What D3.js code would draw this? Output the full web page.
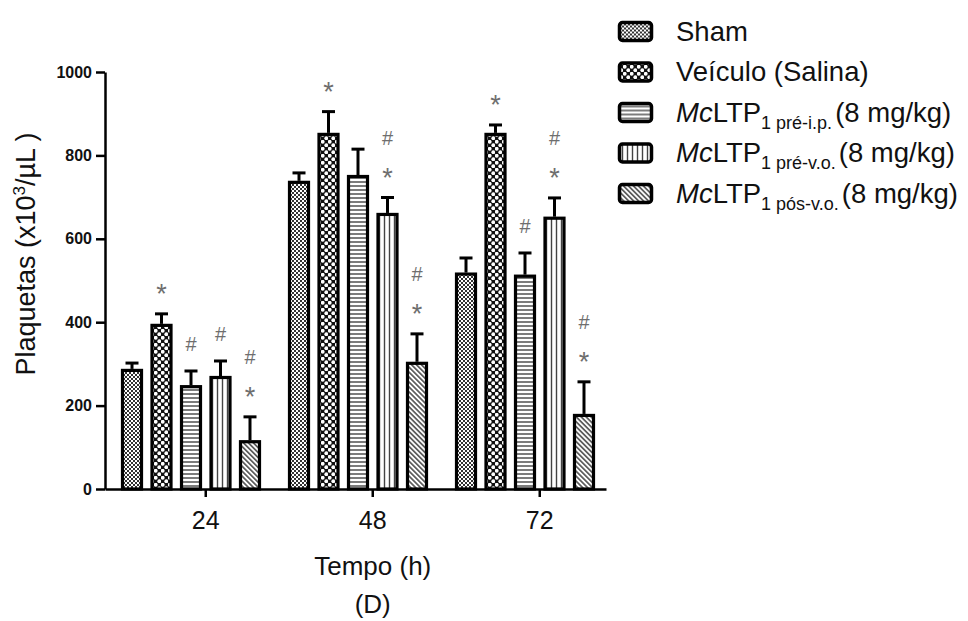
<!DOCTYPE html>
<html>
<head>
<meta charset="utf-8">
<script src="https://cdn.jsdelivr.net/npm/d3@7"></script>
<style>
  body { margin: 0; background: #fff; }
  text { font-family: "Liberation Sans", Arial, sans-serif; fill: #111; }
</style>
</head>
<body>
<div class="vis-holder"></div>
<script>
// time points (h)
var groups = ["24", "48", "72"];
var seriesKeys = ["sham", "veiculo", "preIp", "preVo", "posVo"];

// means (x10^3/uL), one value per time point
var sham    = [288, 739, 519];
var veiculo = [396, 854, 854];
var preIp   = [249, 753, 514];
var preVo   = [271, 662, 653];
var posVo   = [117, 305, 180];

// upper error bars
var shamErr    = [14, 19, 35];
var veiculoErr = [24, 51, 19];
var preIpErr   = [34, 62, 52];
var preVoErr   = [36, 37, 45];
var posVoErr   = [56, 67, 77];

// significance marks, lowest first
var shamSig    = ["", "", ""];
var veiculoSig = ["*", "*", "*"];
var preIpSig   = ["#", "", "#"];
var preVoSig   = ["#", "*#", "*#"];
var posVoSig   = ["*#", "*#", "*#"];

var yTicks = [0, 200, 400, 600, 800, 1000];

// legend text pieces
var legendItalic = ["", "", "Mc", "Mc", "Mc"];
var legendName   = ["Sham", "Veículo (Salina)", "LTP", "LTP", "LTP"];
var legendSub    = ["", "", "1 pré-i.p.", "1 pré-v.o.", "1 pós-v.o."];
var legendTail   = ["", "", "(8 mg/kg)", "(8 mg/kg)", "(8 mg/kg)"];

var means = { sham: sham, veiculo: veiculo, preIp: preIp, preVo: preVo, posVo: posVo };
var errs  = { sham: shamErr, veiculo: veiculoErr, preIp: preIpErr, preVo: preVoErr, posVo: posVoErr };
var sigs  = { sham: shamSig, veiculo: veiculoSig, preIp: preIpSig, preVo: preVoSig, posVo: posVoSig };

var width = 968, height = 621;

var svg = d3.select(".vis-holder").append("svg")
  .attr("width", width)
  .attr("height", height);

// ---- fill patterns ----
var defs = svg.append("defs");

var p = defs.append("pattern").attr("id", "pat-sham")
  .attr("patternUnits", "userSpaceOnUse").attr("width", 4).attr("height", 4);
p.append("rect").attr("width", 4).attr("height", 4).attr("fill", "#fff");
p.append("rect").attr("width", 2).attr("height", 2).attr("fill", "#333");
p.append("rect").attr("x", 2).attr("y", 2).attr("width", 2).attr("height", 2).attr("fill", "#333");

p = defs.append("pattern").attr("id", "pat-veiculo")
  .attr("patternUnits", "userSpaceOnUse").attr("width", 7).attr("height", 7);
p.append("rect").attr("width", 7).attr("height", 7).attr("fill", "#111");
p.append("circle").attr("cx", 1.75).attr("cy", 1.75).attr("r", 1.9).attr("fill", "#fff");
p.append("circle").attr("cx", 5.25).attr("cy", 5.25).attr("r", 1.9).attr("fill", "#fff");

p = defs.append("pattern").attr("id", "pat-preIp")
  .attr("patternUnits", "userSpaceOnUse").attr("width", 4).attr("height", 4);
p.append("rect").attr("width", 4).attr("height", 4).attr("fill", "#fff");
p.append("line").attr("x1", 0).attr("x2", 4).attr("y1", 2).attr("y2", 2)
  .attr("stroke", "#444").attr("stroke-width", 1.4);

p = defs.append("pattern").attr("id", "pat-preVo")
  .attr("patternUnits", "userSpaceOnUse").attr("width", 5).attr("height", 5);
p.append("rect").attr("width", 5).attr("height", 5).attr("fill", "#fff");
p.append("line").attr("x1", 2.5).attr("x2", 2.5).attr("y1", 0).attr("y2", 5)
  .attr("stroke", "#444").attr("stroke-width", 1.4);

p = defs.append("pattern").attr("id", "pat-posVo")
  .attr("patternUnits", "userSpaceOnUse").attr("width", 3.5).attr("height", 3.5)
  .attr("patternTransform", "rotate(-45)");
p.append("rect").attr("width", 3.5).attr("height", 3.5).attr("fill", "#fff");
p.append("line").attr("x1", 1.75).attr("x2", 1.75).attr("y1", 0).attr("y2", 3.5)
  .attr("stroke", "#444").attr("stroke-width", 1.5);

// ---- scales ----
var x0 = d3.scaleBand().domain(groups).range([105, 606]);
var x1 = d3.scaleBand().domain(seriesKeys).range([16, 156]).paddingInner(0.254).paddingOuter(0);
var y = d3.scaleLinear().domain([0, 1000]).range([489, 72]);

// ---- bars ----
var gBars = svg.append("g").selectAll("g")
  .data(groups)
  .enter().append("g")
  .attr("transform", function(g) { return "translate(" + x0(g) + ",0)"; });

gBars.each(function(g, gi) {
  var sel = d3.select(this);
  seriesKeys.forEach(function(k) {
    var v = means[k][gi], e = errs[k][gi];
    var bx = x1(k) + 1.5, bw = x1.bandwidth() - 3;
    var cx = x1(k) + x1.bandwidth() / 2;
    // error bar (upper only)
    sel.append("line")
      .attr("x1", cx).attr("x2", cx)
      .attr("y1", y(v)).attr("y2", y(v + e))
      .attr("stroke", "#000").attr("stroke-width", 3);
    sel.append("line")
      .attr("x1", cx - 6.5).attr("x2", cx + 6.5)
      .attr("y1", y(v + e)).attr("y2", y(v + e))
      .attr("stroke", "#000").attr("stroke-width", 3);
    sel.append("rect")
      .attr("x", bx).attr("y", y(v) + 1.5)
      .attr("width", bw).attr("height", y(0) - y(v) - 1.5)
      .attr("fill", "url(#pat-" + k + ")")
      .attr("stroke", "#000").attr("stroke-width", 3.2);
    // significance marks
    var marks = sigs[k][gi].split("");
    marks.forEach(function(m, mi) {
      var cy = y(v + e) - 27 - mi * 33;
      var fs = m === "*" ? 27 : 20;
      sel.append("text")
        .attr("x", cx)
        .attr("y", cy + (m === "*" ? 0.6 : 0.36) * fs)
        .attr("text-anchor", "middle")
        .style("font-size", fs + "px")
        .style("fill", "#6e6e6e")
        .text(m);
    });
  });
});

// ---- axes ----
var yAxis = svg.append("g")
  .attr("transform", "translate(105,0)")
  .call(d3.axisLeft(y).tickValues(yTicks).tickFormat(d3.format("d"))
    .tickSize(9).tickPadding(4).tickSizeOuter(0));
yAxis.select(".domain").attr("stroke-width", 2.5);
yAxis.selectAll(".tick line").attr("stroke-width", 2.5);
yAxis.selectAll(".tick text").style("font-size", "16px").style("font-weight", "bold").style("fill", "#111");

// x ticks sit in the gap between the 3rd and 4th bar, like the original
var tickOffset = x1(seriesKeys[3]) - (x1.step() - x1.bandwidth()) / 2;
var xAxis = svg.append("g")
  .attr("transform", "translate(0,489)")
  .call(d3.axisBottom(x0).tickSize(8).tickPadding(14).tickSizeOuter(0));
xAxis.selectAll(".tick").attr("transform", function(g) { return "translate(" + (x0(g) + tickOffset) + ",0)"; });
xAxis.select(".domain").attr("stroke-width", 2.5);
xAxis.selectAll(".tick line").attr("stroke-width", 2.5);
xAxis.selectAll(".tick text").style("font-size", "25px").style("fill", "#111");

// ---- titles ----
var midX = x0(groups[1]) + tickOffset;
svg.append("text")
  .attr("x", midX).attr("y", 575)
  .attr("text-anchor", "middle")
  .style("font-size", "26px")
  .text("Tempo (h)");
svg.append("text")
  .attr("x", midX).attr("y", 613)
  .attr("text-anchor", "middle")
  .style("font-size", "26px")
  .text("(D)");

var yLabel = svg.append("text")
  .attr("text-anchor", "middle")
  .attr("transform", "translate(35,254)rotate(-90)")
  .style("font-size", "27px");
yLabel.append("tspan").text("Plaquetas (x10");
yLabel.append("tspan").attr("dy", -10).style("font-size", "17px").text("3");
yLabel.append("tspan").attr("dy", 10).text("/µL )");

// ---- legend ----
var legend = svg.append("g").selectAll("g")
  .data(seriesKeys)
  .enter().append("g")
  .attr("transform", function(d, i) { return "translate(0," + (31.5 + i * 40.5) + ")"; });

legend.append("rect")
  .attr("x", 619.5).attr("y", -9)
  .attr("width", 32).attr("height", 18)
  .attr("rx", 3)
  .attr("fill", function(d) { return "url(#pat-" + d + ")"; })
  .attr("stroke", "#000").attr("stroke-width", 3.5);

legend.each(function(d, i) {
  var t = d3.select(this).append("text")
    .attr("x", 676).attr("y", 9)
    .style("font-size", "27.5px");
  if (legendItalic[i]) t.append("tspan").style("font-style", "italic").text(legendItalic[i]);
  t.append("tspan").text(legendName[i]);
  if (legendSub[i]) {
    t.append("tspan").attr("dy", 7).style("font-size", "18px").text(legendSub[i]);
    t.append("tspan").attr("dy", -7).attr("dx", 3).text(legendTail[i]);
  }
});
</script>
</body>
</html>
